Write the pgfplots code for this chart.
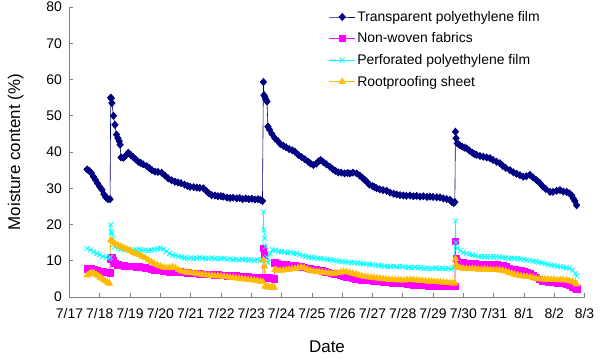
\documentclass[border=0pt]{standalone}
\usepackage{pgfplots}
\pgfplotsset{compat=1.18}
\usepackage{fontspec}
\setmainfont{Liberation Sans}
\definecolor{cNavy}{RGB}{0,0,128}
\definecolor{cMag}{RGB}{255,0,255}
\definecolor{cCyan}{RGB}{0,255,255}
\definecolor{cOrange}{RGB}{255,187,0}
\begin{document}
\begin{tikzpicture}
\begin{axis}[
  scale only axis, width=515bp, height=290bp,
  xmin=0, xmax=17, ymin=0, ymax=80,
  axis x line*=bottom, axis y line*=left,
  axis line style={draw=gray, line width=0.6bp},
  tick style={draw=gray, line width=0.6bp},
  tick align=inside, major tick length=4bp,
  xtick={0,...,17},
  xticklabels={7/17,7/18,7/19,7/20,7/21,7/22,7/23,7/24,7/25,7/26,7/27,7/28,7/29,7/30,7/31,8/1,8/2,8/3},
  ytick={0,10,...,80},
  /pgf/number format/assume math mode=true,
  tick label style={font=\fontsize{14}{16}\selectfont, text=black},
  xticklabel style={yshift=-8bp},
  yticklabel style={xshift=-4bp},
  xlabel={Date}, ylabel={Moisture content (\%)},
  label style={font=\fontsize{17}{19}\selectfont},
  xlabel shift=15bp, ylabel shift=16bp,
  clip=false,
  legend cell align=left,
  legend style={draw=none, fill=none, at={(0.498,1.0)}, anchor=north west,
    font=\fontsize{14}{16}\selectfont, row sep=6bp},
  legend image code/.code={\draw[mark repeat=2,mark phase=2] plot coordinates {(0cm,0cm) (0.45cm,0cm) (0.9cm,0cm)};},
]
\addplot[cNavy, line width=0.6bp, mark=diamond*, mark size=3.6bp, mark options={fill=cNavy, draw=cNavy, xscale=1.2}] coordinates {
(0.58,35.2)(0.65,34.8)(0.72,34.2)(0.79,33.2)(0.86,32.3)(0.93,31.3)(1.00,30.4)(1.07,29.6)(1.14,28.3)(1.20,27.5)(1.27,27.0)(1.34,27.0)
(1.36,55.0)(1.38,54.8)(1.40,53.5)(1.45,50.0)(1.50,47.5)(1.55,44.8)(1.60,43.8)(1.64,43.0)(1.67,42.0)(1.70,38.5)(1.78,38.4)(1.86,39.0)(1.94,39.8)
(2.02,39.2)(2.10,38.6)(2.18,38.0)(2.27,37.3)(2.35,37.0)(2.43,36.6)(2.55,36.1)(2.63,35.6)(2.72,35.0)(2.82,34.6)(2.92,34.5)
(3.04,34.3)(3.15,33.5)(3.26,32.7)(3.37,32.2)(3.48,31.8)(3.58,31.6)(3.68,31.4)(3.80,31.0)(3.90,30.6)(3.98,30.4)
(4.10,30.3)(4.20,30.2)(4.30,30.1)(4.42,30.0)(4.52,29.2)(4.60,28.6)(4.69,28.1)(4.80,28.0)(4.90,27.8)(5.00,27.8)
(5.08,27.7)(5.20,27.4)(5.30,27.3)(5.40,27.4)(5.52,27.2)(5.62,27.3)(5.72,27.0)(5.82,27.2)(5.92,27.0)(6.02,27.1)(6.12,26.9)(6.22,27.0)(6.30,26.8)(6.37,26.5)
(6.40,59.3)(6.42,55.7)(6.45,55.2)(6.48,54.5)(6.52,53.9)(6.55,47.0)(6.60,46.2)(6.68,45.0)(6.78,43.8)(6.88,43.0)(6.96,42.2)
(7.06,41.7)(7.15,41.3)(7.25,40.8)(7.35,40.5)(7.44,40.1)(7.55,39.2)(7.66,38.6)(7.77,38.0)(7.88,37.3)(7.96,36.8)
(8.05,36.4)(8.15,36.8)(8.22,37.4)(8.29,37.8)(8.38,37.2)(8.48,36.6)(8.60,35.9)(8.70,35.2)(8.78,34.8)(8.87,34.4)(8.97,34.3)
(9.08,34.1)(9.18,34.2)(9.26,34.1)(9.36,34.3)(9.48,34.1)(9.58,33.5)(9.68,32.8)(9.75,32.3)(9.81,31.8)(9.90,31.0)
(10.00,30.6)(10.07,30.3)(10.14,30.0)(10.24,29.7)(10.35,29.5)(10.47,29.3)(10.58,28.8)(10.70,28.5)(10.80,28.3)(10.91,28.1)
(11.02,28.0)(11.12,27.9)(11.24,28.0)(11.35,27.8)(11.46,27.9)(11.57,27.7)(11.68,27.8)(11.80,27.6)(11.90,27.7)
(12.00,27.6)(12.12,27.5)(12.23,27.5)(12.34,27.2)(12.45,27.0)(12.56,26.8)(12.62,26.2)(12.68,25.9)(12.72,26.2)
(12.74,45.6)(12.76,43.8)(12.80,42.4)(12.88,41.9)(12.96,41.5)(13.04,41.2)(13.11,41.0)(13.20,40.4)(13.30,39.8)(13.37,39.4)(13.44,39.2)
(13.55,38.9)(13.66,38.7)(13.77,38.5)(13.88,38.3)(13.98,37.8)(14.10,37.3)(14.21,36.9)(14.30,36.2)(14.40,35.6)(14.54,35.0)
(14.65,34.4)(14.76,34.0)(14.87,33.6)(14.98,33.2)(15.08,33.3)(15.20,33.7)(15.30,33.0)(15.42,32.2)(15.53,31.4)(15.62,30.5)
(15.72,29.8)(15.86,29.0)(15.96,29.0)(16.08,29.3)(16.19,29.5)(16.30,29.1)(16.41,29.0)(16.50,28.6)(16.58,28.0)(16.63,27.2)(16.68,26.5)(16.74,25.3)
};
\addlegendentry{Transparent polyethylene film}
\addplot[cMag, line width=0.6bp, mark=square*, mark size=3.2bp, mark options={fill=cMag, draw=cMag}] coordinates {
(0.58,7.8)(0.65,8.0)(0.72,7.9)(0.80,7.6)(0.90,7.3)(1.00,7.0)(1.10,6.9)(1.20,6.8)(1.30,6.8)(1.34,6.7)
(1.36,10.5)(1.40,10.8)(1.45,10.0)(1.50,9.3)(1.60,8.9)(1.70,8.7)(1.80,8.6)(1.90,8.5)(2.00,8.4)(2.10,8.4)(2.20,8.3)(2.30,8.3)(2.40,8.2)(2.50,8.1)
(2.60,7.9)(2.70,7.7)(2.80,7.5)(2.90,7.4)(3.00,7.3)(3.10,7.2)(3.20,7.1)(3.30,7.0)(3.40,7.0)(3.50,6.9)(3.60,6.9)(3.70,6.9)(3.80,6.8)(3.90,6.7)
(4.00,6.6)(4.10,6.6)(4.20,6.5)(4.30,6.4)(4.40,6.3)(4.50,6.3)(4.60,6.2)(4.70,6.2)(4.80,6.1)(4.90,6.1)(5.00,6.0)(5.10,6.0)(5.20,5.9)(5.30,5.9)
(5.40,5.8)(5.50,5.8)(5.60,5.7)(5.70,5.7)(5.80,5.6)(5.90,5.6)(6.00,5.5)(6.10,5.5)(6.20,5.5)(6.30,5.4)(6.38,5.4)
(6.40,13.5)(6.43,11.5)(6.46,5.5)(6.50,5.3)(6.55,5.2)(6.60,5.3)(6.65,5.1)(6.70,5.2)(6.76,5.0)
(6.78,9.4)(6.85,9.2)(6.95,9.0)(7.05,8.9)(7.15,8.9)(7.25,8.8)(7.35,8.7)(7.45,8.6)(7.55,8.5)(7.65,8.3)(7.75,8.2)(7.85,8.0)(7.95,7.8)
(8.05,7.6)(8.15,7.5)(8.25,7.4)(8.35,7.2)(8.45,7.0)(8.55,6.8)(8.65,6.6)(8.75,6.4)(8.85,6.2)(8.95,6.0)(9.05,5.8)(9.15,5.6)(9.25,5.4)
(9.35,5.2)(9.45,5.0)(9.55,4.9)(9.65,4.8)(9.75,4.7)(9.85,4.6)(9.95,4.6)(10.05,4.5)(10.15,4.4)(10.25,4.3)(10.35,4.2)(10.45,4.1)
(10.55,4.0)(10.65,3.9)(10.75,3.9)(10.85,3.8)(10.95,3.8)(11.05,3.7)(11.15,3.6)(11.25,3.5)(11.35,3.4)(11.45,3.3)(11.55,3.3)
(11.65,3.2)(11.75,3.2)(11.85,3.1)(11.95,3.1)(12.05,3.0)(12.15,3.0)(12.25,3.0)(12.35,3.1)(12.45,3.0)(12.55,2.9)(12.65,3.0)(12.72,3.0)
(12.74,15.3)(12.76,10.7)(12.80,9.8)(12.90,9.5)(13.00,9.4)(13.10,9.3)(13.20,9.3)(13.30,9.2)(13.40,9.2)(13.50,9.1)(13.60,9.1)
(13.70,9.0)(13.80,9.0)(13.90,9.0)(14.00,8.9)(14.10,8.9)(14.20,8.8)(14.30,8.6)(14.40,8.3)(14.50,8.0)(14.60,7.7)(14.70,7.5)
(14.80,7.3)(14.90,7.2)(15.00,7.0)(15.10,6.8)(15.20,6.4)(15.30,5.9)(15.40,5.4)(15.50,4.9)(15.60,4.5)(15.70,4.3)(15.80,4.2)
(15.90,4.1)(16.00,4.0)(16.10,3.9)(16.20,3.8)(16.30,3.7)(16.40,3.5)(16.50,3.2)(16.60,2.8)(16.70,2.4)(16.74,2.3)
};
\addlegendentry{Non-woven fabrics}
\addplot[cCyan, line width=0.6bp, mark=x, mark size=3.5bp, mark options={draw=cCyan, line width=0.8bp}] coordinates {
(0.58,13.4)(0.70,13.0)(0.80,12.5)(0.90,12.0)(1.00,11.6)(1.10,11.2)(1.20,10.9)(1.30,10.7)(1.34,11.0)
(1.36,19.9)(1.38,18.0)(1.40,17.6)(1.43,16.0)(1.46,14.5)(1.50,13.9)(1.60,13.4)(1.70,13.2)(1.80,13.0)(1.90,13.2)
(2.00,13.0)(2.10,12.8)(2.20,13.0)(2.30,13.1)(2.40,12.9)(2.50,13.0)(2.60,12.8)(2.70,12.9)(2.80,13.1)(2.90,13.3)
(3.00,13.4)(3.10,13.2)(3.20,12.6)(3.30,12.0)(3.40,11.6)(3.50,11.5)(3.60,11.2)(3.70,11.0)(3.80,10.8)(3.90,10.7)
(4.00,10.8)(4.10,10.6)(4.20,10.7)(4.30,10.9)(4.40,10.7)(4.50,10.6)(4.60,10.7)(4.70,10.8)(4.80,10.6)(4.90,10.5)
(5.00,10.6)(5.10,10.7)(5.20,10.4)(5.30,10.5)(5.40,10.3)(5.50,10.4)(5.60,10.2)(5.70,10.4)(5.80,10.3)(5.90,10.2)
(6.00,10.3)(6.10,10.1)(6.20,10.3)(6.30,10.2)(6.38,10.2)
(6.40,23.5)(6.42,18.5)(6.45,16.2)(6.48,13.9)(6.52,11.0)(6.55,9.5)(6.62,12.0)(6.70,13.0)(6.80,12.9)(6.90,12.6)
(7.00,12.5)(7.10,12.4)(7.20,12.2)(7.30,12.3)(7.40,12.0)(7.50,12.0)(7.60,11.7)(7.70,11.4)(7.80,11.2)(7.90,11.0)
(8.00,10.9)(8.10,10.8)(8.20,10.7)(8.30,10.6)(8.40,10.5)(8.50,10.4)(8.60,10.3)(8.70,10.2)(8.80,10.0)(8.90,9.9)
(9.00,9.8)(9.10,9.7)(9.20,9.6)(9.30,9.5)(9.40,9.5)(9.50,9.4)(9.60,9.3)(9.70,9.2)(9.80,9.1)(9.90,9.0)
(10.00,8.9)(10.10,8.8)(10.20,8.7)(10.30,8.6)(10.40,8.5)(10.50,8.4)(10.60,8.4)(10.70,8.5)(10.80,8.3)(10.90,8.4)
(11.00,8.3)(11.10,8.2)(11.20,8.2)(11.30,8.1)(11.40,8.2)(11.50,8.0)(11.60,8.1)(11.70,7.9)(11.80,8.0)(11.90,7.9)
(12.00,7.9)(12.10,8.0)(12.20,7.8)(12.30,7.9)(12.40,7.8)(12.50,7.9)(12.60,7.7)(12.70,8.0)
(12.74,21.0)(12.76,15.0)(12.80,13.4)(12.90,12.8)(13.00,12.3)(13.10,12.0)(13.20,11.8)(13.30,11.6)(13.40,11.4)(13.50,11.2)
(13.60,11.1)(13.70,11.1)(13.80,11.0)(13.90,11.1)(14.00,11.0)(14.10,11.1)(14.20,11.0)(14.30,10.9)(14.40,10.8)(14.50,10.7)
(14.60,10.7)(14.70,10.6)(14.80,10.6)(14.90,10.5)(15.00,10.4)(15.10,10.2)(15.20,10.1)(15.30,9.9)(15.40,9.8)(15.50,9.6)
(15.60,9.4)(15.70,9.2)(15.80,9.0)(15.90,8.8)(16.00,8.7)(16.10,8.5)(16.20,8.4)(16.30,8.2)(16.40,8.1)(16.50,7.9)
(16.60,7.4)(16.70,6.5)(16.74,5.8)
};
\addlegendentry{Perforated polyethylene film}
\addplot[cOrange, line width=0.6bp, mark=triangle*, mark size=3.7bp, mark options={fill=cOrange, draw=cOrange}] coordinates {
(0.58,6.0)(0.65,6.3)(0.72,6.8)(0.80,6.6)(0.88,6.2)(0.95,5.8)(1.02,5.4)(1.10,4.9)(1.18,4.5)(1.26,4.0)(1.32,3.7)
(1.36,15.7)(1.42,15.3)(1.50,14.8)(1.60,14.3)(1.70,13.9)(1.80,13.5)(1.90,13.2)(2.00,12.8)(2.10,12.3)(2.20,11.9)
(2.30,11.6)(2.40,11.2)(2.50,10.8)(2.60,10.2)(2.70,9.7)(2.80,9.2)(2.90,8.8)(3.00,8.5)(3.10,8.2)(3.20,8.0)
(3.30,8.1)(3.40,8.3)(3.50,8.0)(3.60,7.5)(3.70,7.1)(3.80,6.9)(3.90,6.8)(4.00,6.7)(4.10,6.6)(4.20,6.5)
(4.30,6.3)(4.40,6.2)(4.50,6.1)(4.60,6.0)(4.70,5.9)(4.80,5.8)(4.90,5.8)(5.00,5.7)(5.10,5.6)(5.20,5.5)
(5.30,5.4)(5.40,5.3)(5.50,5.2)(5.60,5.1)(5.70,5.0)(5.80,4.9)(5.90,4.8)(6.00,4.7)(6.10,4.6)(6.20,4.5)(6.30,4.3)(6.38,4.2)
(6.40,10.2)(6.43,8.5)(6.46,3.0)(6.50,2.8)(6.55,2.7)(6.60,2.8)(6.65,2.6)(6.70,2.7)(6.76,2.6)
(6.78,7.5)(6.85,7.4)(6.95,7.3)(7.05,7.4)(7.15,7.5)(7.25,7.6)(7.35,7.7)(7.45,7.8)(7.55,8.0)(7.65,8.2)(7.75,8.0)
(7.85,7.6)(7.95,7.3)(8.05,7.1)(8.15,7.0)(8.25,6.9)(8.35,6.8)(8.45,6.7)(8.55,6.6)(8.65,6.5)(8.75,6.5)(8.85,6.6)
(8.95,6.8)(9.05,7.0)(9.15,6.9)(9.25,6.7)(9.35,6.5)(9.45,6.3)(9.55,6.0)(9.65,5.8)(9.75,5.6)(9.85,5.5)(9.95,5.4)
(10.05,5.3)(10.15,5.2)(10.25,5.1)(10.35,5.0)(10.45,4.9)(10.55,4.8)(10.65,4.8)(10.75,4.7)(10.85,4.7)(10.95,4.6)
(11.05,4.6)(11.15,4.7)(11.25,4.8)(11.35,4.7)(11.45,4.6)(11.55,4.5)(11.65,4.5)(11.75,4.4)(11.85,4.3)(11.95,4.3)
(12.05,4.2)(12.15,4.2)(12.25,4.1)(12.35,4.0)(12.45,4.0)(12.55,3.9)(12.65,3.8)(12.72,3.8)
(12.74,10.5)(12.76,9.0)(12.80,8.2)(12.90,8.0)(13.00,7.9)(13.10,7.8)(13.20,7.7)(13.30,7.8)(13.40,7.7)(13.50,7.6)
(13.60,7.6)(13.70,7.7)(13.80,7.6)(13.90,7.5)(14.00,7.5)(14.10,7.5)(14.20,7.4)(14.30,7.3)(14.40,7.1)(14.50,6.8)
(14.60,6.5)(14.70,6.2)(14.80,6.0)(14.90,5.8)(15.00,5.7)(15.10,5.6)(15.20,5.5)(15.30,5.3)(15.40,5.1)(15.50,5.0)
(15.60,4.9)(15.70,4.9)(15.80,4.8)(15.90,4.8)(16.00,4.8)(16.10,4.7)(16.20,4.7)(16.30,4.7)(16.40,4.6)(16.50,4.5)
(16.60,4.3)(16.70,3.9)(16.74,3.5)
};
\addlegendentry{Rootproofing sheet}
\end{axis}
\pgfresetboundingbox
\useasboundingbox (-69.5bp,-66bp) rectangle (530.5bp,297bp);
\end{tikzpicture}
\end{document}
